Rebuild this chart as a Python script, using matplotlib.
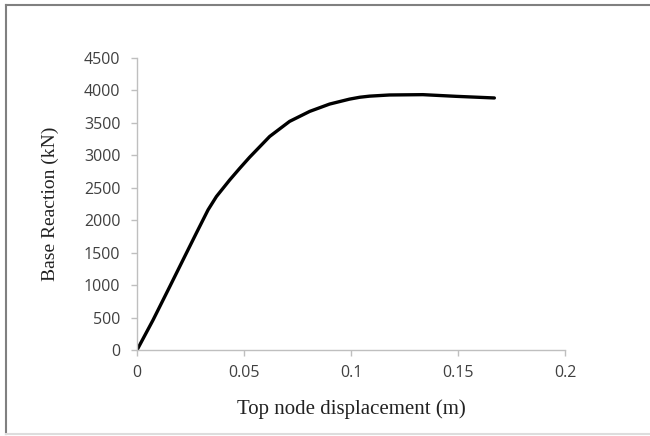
import matplotlib.pyplot as plt
from matplotlib.lines import Line2D

# pushover curve
displacement = [0.0, 0.0075, 0.0153, 0.0215, 0.0277, 0.0332, 0.0371, 0.0433,
                0.048, 0.0526, 0.062, 0.0713, 0.0807, 0.09, 0.0993, 0.1041,
                0.1087, 0.118, 0.1336, 0.1492, 0.167]
reaction = [0, 463, 977, 1389, 1800, 2160, 2365, 2620,
            2800, 2970, 3291, 3523, 3677, 3790, 3866, 3895,
            3912, 3930, 3935, 3909, 3884]

x_ticks = [0, 0.05, 0.1, 0.15, 0.2]
x_labels = ["0", "0.05", "0.1", "0.15", "0.2"]
y_ticks = [0, 500, 1000, 1500, 2000, 2500, 3000, 3500, 4000, 4500]

fig = plt.figure(figsize=(6.5, 4.36), dpi=100)
ax = fig.add_axes([0.2108, 0.1972, 0.6584, 0.6698])

ax.plot(displacement, reaction, color="black", linewidth=2.4,
        solid_capstyle="round", solid_joinstyle="round")

ax.set_xlim(0, 0.2)
ax.set_ylim(0, 4500)
ax.set_xticks(x_ticks)
ax.set_xticklabels(x_labels)
ax.set_yticks(y_ticks)

for s in ["top", "right"]:
    ax.spines[s].set_visible(False)
for s in ["left", "bottom"]:
    ax.spines[s].set_color("#bfbfbf")
    ax.spines[s].set_linewidth(1.0)

ax.tick_params(axis="both", direction="out", length=4, width=1, color="#bfbfbf",
               labelsize=11.5, labelcolor="#404040")
for lab in ax.get_xticklabels() + ax.get_yticklabels():
    lab.set_family("Open Sans")
ax.tick_params(axis="x", pad=7)
ax.tick_params(axis="y", pad=8)

ax.set_xlabel("Top node displacement (m)", family="Liberation Serif",
              fontsize=15, color="#222222", labelpad=13)
ax.set_ylabel("Base Reaction (kN)", family="Liberation Serif",
              fontsize=14, color="#222222", labelpad=18)

# gray frame around the chart area
fig.add_artist(Line2D([6 / 650, 6 / 650], [2 / 436, 431 / 436], color="#808080", lw=1.5))
fig.add_artist(Line2D([6 / 650, 1.0], [431 / 436, 431 / 436], color="#808080", lw=1.5))
fig.add_artist(Line2D([6 / 650, 1.0], [2 / 436, 2 / 436], color="#dddddd", lw=1.5))

fig.savefig("out.png", dpi=100)
